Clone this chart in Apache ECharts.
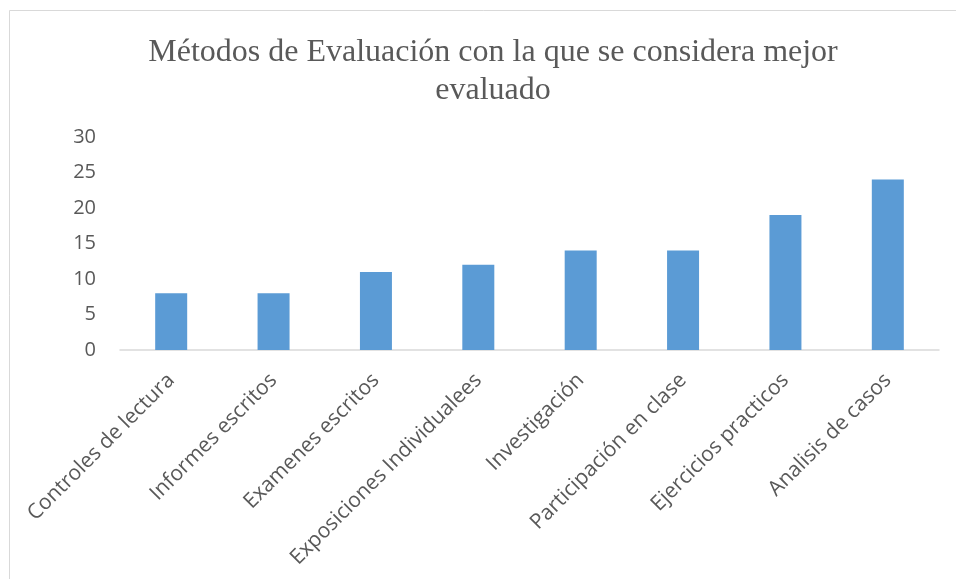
<!DOCTYPE html>
<html>
<head>
<meta charset="utf-8">
<script src="https://cdn.jsdelivr.net/npm/echarts@6/dist/echarts.min.js"></script>
<style>
	html,body{margin:0;padding:0;background:#fff;}
	#chart{width:956px;height:579px;}
</style>
</head>
<body>
<div id="chart"></div>
<script>
	// datos del grafico
	const categorias = ['Controles de lectura', 'Informes escritos', 'Examenes escritos', 'Exposiciones Individualees', 'Investigación', 'Participación en clase', 'Ejercicios practicos', 'Analisis de casos'];
	const valores = [8, 8, 11, 12, 14, 14, 19, 24];
	const ejeY = {min: 0, max: 30, interval: 5};

	const myChart = echarts.init(document.getElementById('chart'));
	const option = {
		backgroundColor: '#fff',
		animation: false,
		title: {
			text: 'Métodos de Evaluación con la que se considera mejor\nevaluado',
			left: 488,
			top: 29,
			textAlign: 'center',
			textStyle: {
				fontFamily: 'Liberation Serif',
				fontWeight: 'normal',
				fontSize: 32,
				lineHeight: 38,
				color: '#595959'
			}
		},
		graphic: [{
			type: 'rect',
			shape: {x: 9.5, y: 10.5, width: 1000, height: 1000},
			style: {fill: 'none', stroke: '#d9d9d9', lineWidth: 1},
			silent: true
		}],
		grid: {left: 120, right: 17, top: 137, bottom: 229, containLabel: false},
		xAxis: {
			type: 'category',
			data: categorias,
			axisLine: {show: true, lineStyle: {color: '#d9d9d9', width: 1.5}},
			axisTick: {show: false},
			axisLabel: {
				rotate: 45,
				interval: 0,
				margin: 27,
				fontFamily: 'Open Sans',
				fontSize: 21,
				color: '#595959'
			}
		},
		yAxis: {
			type: 'value',
			min: ejeY.min,
			max: ejeY.max,
			interval: ejeY.interval,
			axisLine: {show: false},
			axisTick: {show: false},
			splitLine: {show: false},
			axisLabel: {
				margin: 24,
				fontFamily: 'Open Sans',
				fontSize: 20,
				color: '#595959'
			}
		},
		series: [{
			type: 'bar',
			data: valores,
			barWidth: 32,
			itemStyle: {color: '#5b9bd5'}
		}]
	};
	myChart.setOption(option);
</script>
</body>
</html>
